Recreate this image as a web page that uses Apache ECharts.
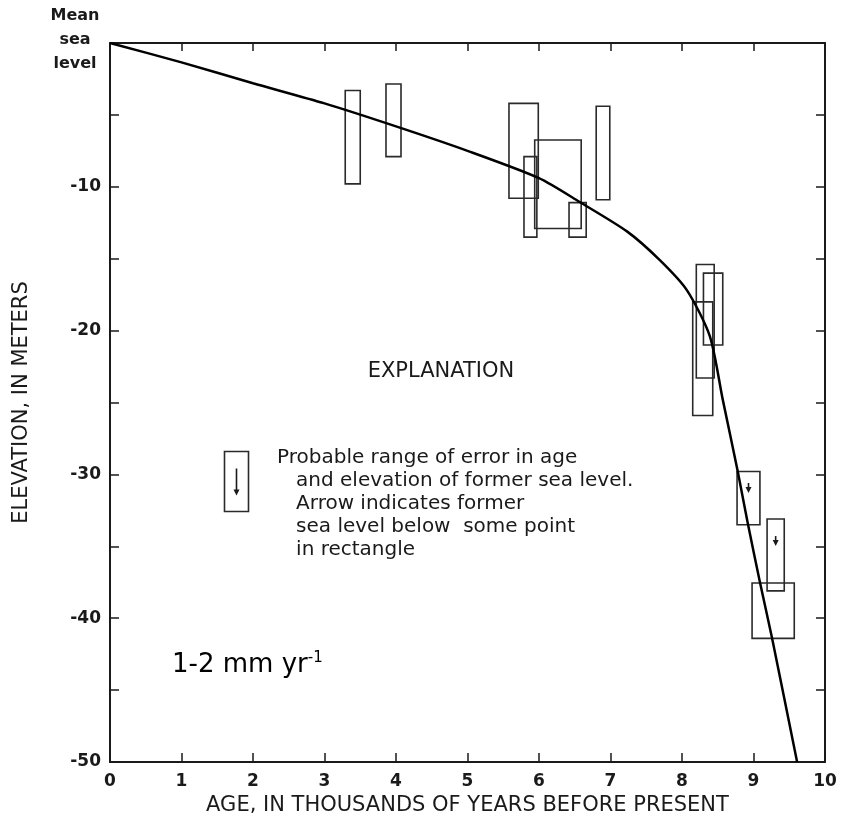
<!DOCTYPE html>
<html>
<head>
<meta charset="utf-8">
<script src="https://cdn.jsdelivr.net/npm/echarts@6/dist/echarts.min.js"></script>
<style>
  html, body { margin: 0; padding: 0; background: #ffffff; }
  #chart { width: 841px; height: 828px; }
</style>
</head>
<body>
<div id="chart"></div>
<script>
// sea level curve (age in ka, elevation in m)
const curveAge  = [0, 1, 2, 3, 4, 5, 6, 6.57, 7.23, 7.69, 8.07, 8.39, 8.57, 8.78, 8.92, 9.09, 9.26, 9.61];
const curveElev = [0, -1.35, -2.8, -4.2, -5.8, -7.5, -9.4, -11.06, -13.1, -15.1, -17.2, -20.4, -24.8, -29.8, -33.4, -37.5, -41.4, -50];

// error rectangles
const boxAgeMin  = [3.29, 3.86, 5.58, 5.79, 5.94, 6.42, 6.80, 8.20, 8.15, 8.30, 8.77, 9.19, 8.98];
const boxAgeMax  = [3.50, 4.07, 5.99, 5.97, 6.59, 6.66, 6.99, 8.45, 8.43, 8.57, 9.09, 9.43, 9.57];
const boxElevTop = [-3.3, -2.85, -4.2, -7.9, -6.75, -11.1, -4.4, -15.4, -18.0, -16.0, -29.8, -33.1, -37.55];
const boxElevBot = [-9.8, -7.9, -10.8, -13.5, -12.9, -13.5, -10.9, -23.3, -25.9, -21.0, -33.5, -38.1, -41.4];
const boxArrow   = [0, 0, 0, 0, 0, 0, 0, 0, 0, 0, 1, 1, 0];

const xTicks = [0, 1, 2, 3, 4, 5, 6, 7, 8, 9, 10];
const yLabels = [-10, -20, -30, -40, -50];

const chart = echarts.init(document.getElementById('chart'));

const curveData = curveAge.map((a, i) => [a, curveElev[i]]);
const boxData = boxAgeMin.map((a, i) => [a, boxAgeMax[i], boxElevTop[i], boxElevBot[i], boxArrow[i]]);

const fontMain = 'DejaVu Sans';
const ink = '#1a1a1a';

function downArrow(cx, cy, len) {
  return [
    { type: 'line', shape: { x1: cx, y1: cy - len / 2, x2: cx, y2: cy + len / 2 - 3 },
      style: { stroke: ink, lineWidth: 1.6 } },
    { type: 'polygon', shape: { points: [[cx - 3, cy + len / 2 - 5], [cx + 3, cy + len / 2 - 5], [cx, cy + len / 2 + 1]] },
      style: { fill: ink } }
  ];
}

const frameLine = { show: true, onZero: false, lineStyle: { color: ink, width: 2 } };

const option = {
  backgroundColor: '#ffffff',
  animation: false,
  grid: { left: 110, right: 16, top: 43, bottom: 66 },
  xAxis: [
    {
      type: 'value', min: 0, max: 10, interval: 1, position: 'bottom',
      name: 'AGE, IN THOUSANDS OF YEARS BEFORE PRESENT',
      nameLocation: 'middle', nameGap: 31,
      nameTextStyle: { fontFamily: fontMain, fontSize: 21, color: ink },
      axisLine: frameLine,
      axisTick: { inside: true, length: 9, lineStyle: { color: ink, width: 1.5 } },
      axisLabel: { fontFamily: fontMain, fontSize: 17, fontWeight: 'bold', color: ink, margin: 11,
        formatter: v => xTicks.includes(v) ? String(v) : '' },
      splitLine: { show: false }
    },
    {
      type: 'value', min: 0, max: 10, interval: 1, position: 'top',
      axisLine: frameLine,
      axisTick: { inside: true, length: 8, lineStyle: { color: ink, width: 1.5 } },
      axisLabel: { show: false },
      splitLine: { show: false }
    }
  ],
  yAxis: [
    {
      type: 'value', min: -50, max: 0, interval: 5, position: 'left',
      name: 'ELEVATION, IN METERS',
      nameLocation: 'middle', nameGap: 78, nameRotate: 90,
      nameTextStyle: { fontFamily: fontMain, fontSize: 21, color: ink },
      axisLine: frameLine,
      axisTick: { inside: true, length: 9, lineStyle: { color: ink, width: 1.5 } },
      axisLabel: { fontFamily: fontMain, fontSize: 17, fontWeight: 'bold', color: ink, margin: 9,
        formatter: v => yLabels.includes(v) ? String(v) : '' },
      splitLine: { show: false }
    },
    {
      type: 'value', min: -50, max: 0, interval: 5, position: 'right',
      axisLine: frameLine,
      axisTick: { inside: true, length: 9, lineStyle: { color: ink, width: 1.5 } },
      axisLabel: { show: false },
      splitLine: { show: false }
    }
  ],
  series: [
    {
      name: 'error boxes',
      type: 'custom',
      xAxisIndex: 0, yAxisIndex: 0,
      data: boxData,
      renderItem(params, api) {
        const tl = api.coord([api.value(0), api.value(2)]);
        const br = api.coord([api.value(1), api.value(3)]);
        const children = [{
          type: 'rect',
          shape: { x: tl[0], y: tl[1], width: br[0] - tl[0], height: br[1] - tl[1] },
          style: { fill: 'none', stroke: '#2a2a2a', lineWidth: 1.6 }
        }];
        if (api.value(4)) {
          const cx = (tl[0] + br[0]) / 2;
          const cy = tl[1] + (br[1] - tl[1]) * 0.3;
          children.push(...downArrow(cx, cy, 9));
        }
        return { type: 'group', children };
      },
      z: 2
    },
    {
      name: 'sea level',
      type: 'line',
      data: curveData,
      smooth: 0.25,
      symbol: 'none',
      lineStyle: { color: '#000000', width: 2.5 },
      z: 3
    }
  ],
  graphic: [
    { type: 'text', x: 75, y: 4, style: { text: 'Mean\nsea\nlevel', fontFamily: fontMain, fontSize: 16,
      fontWeight: 'bold', lineHeight: 24, fill: ink, align: 'center' } },
    { type: 'text', x: 441, y: 361, style: { text: 'EXPLANATION', fontFamily: fontMain, fontSize: 21,
      fill: ink, align: 'center' } },
    {
      type: 'group', left: 222, top: 449,
      children: [
        { type: 'rect', shape: { x: 0, y: 0, width: 24, height: 60 }, style: { fill: 'none', stroke: '#2a2a2a', lineWidth: 1.6 } },
        ...downArrow(12, 30, 26)
      ]
    },
    { type: 'text', x: 277, y: 446, style: {
      text: 'Probable range of error in age\n   and elevation of former sea level.\n   Arrow indicates former\n   sea level below  some point\n   in rectangle',
      fontFamily: fontMain, fontSize: 20, lineHeight: 23, fill: ink } },
    { type: 'text', x: 172, y: 651, style: {
      text: '1-2 mm yr{sup|-1}', fontFamily: 'DejaVu Sans', fontSize: 26, fill: '#000',
      rich: { sup: { fontSize: 15, verticalAlign: 'top', padding: [0, 0, 13, 0], fontFamily: 'DejaVu Sans' } } } }
  ]
};

chart.setOption(option);
</script>
</body>
</html>
